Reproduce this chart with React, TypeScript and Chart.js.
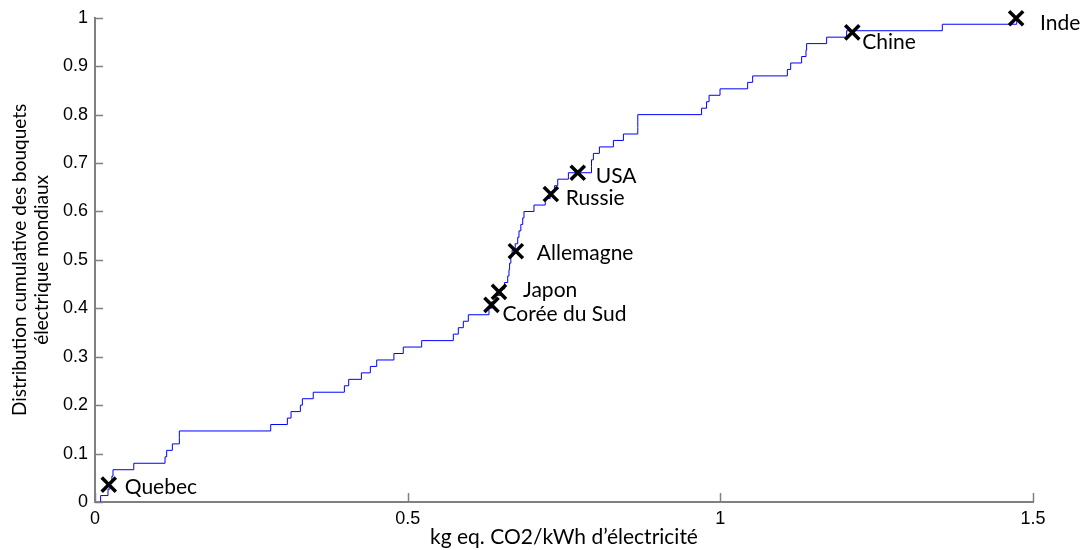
import React, { useEffect, useRef } from "react";
import { Chart, registerables } from "chart.js";

Chart.register(...registerables);

// Cumulative distribution of world electricity mixes (step positions and levels)
const stepX = [
  0.009, 0.009, 0.0208, 0.024, 0.027, 0.0288, 0.062, 0.112, 0.1146, 0.1237, 0.1349, 0.1349,
  0.281, 0.3076, 0.3135, 0.3284, 0.3316, 0.349, 0.3988, 0.4057, 0.426, 0.4403, 0.4505, 0.478,
  0.493, 0.5224, 0.573, 0.581, 0.589, 0.597, 0.63, 0.634, 0.641, 0.648, 0.655, 0.66, 0.662,
  0.663, 0.665, 0.667, 0.672, 0.676, 0.678, 0.681, 0.684, 0.686, 0.702, 0.72, 0.728, 0.735,
  0.74, 0.757, 0.794, 0.794, 0.797, 0.8066, 0.829, 0.845, 0.868, 0.868, 0.868, 0.97, 0.978,
  0.982, 0.9995, 1.0437, 1.0517, 1.1072, 1.1125, 1.13, 1.137, 1.138, 1.17, 1.202, 1.355, 1.474,
];
const stepY = [
  0, 0.0133, 0.0267, 0.04, 0.0533, 0.0667, 0.08, 0.0933, 0.1067, 0.12, 0.1333, 0.1467,
  0.16, 0.1733, 0.1867, 0.2, 0.2133, 0.2267, 0.24, 0.2533, 0.2667, 0.28, 0.2933, 0.3067,
  0.32, 0.3333, 0.3467, 0.36, 0.3733, 0.3867, 0.4, 0.4133, 0.4267, 0.44, 0.4533, 0.4667, 0.48,
  0.4933, 0.5067, 0.52, 0.5333, 0.5467, 0.56, 0.5733, 0.5867, 0.6, 0.6133, 0.6267, 0.64, 0.6533,
  0.6667, 0.68, 0.6933, 0.7067, 0.72, 0.7333, 0.7467, 0.76, 0.7733, 0.7867, 0.8, 0.8133, 0.8267,
  0.84, 0.8533, 0.8667, 0.88, 0.8933, 0.9067, 0.92, 0.9333, 0.9467, 0.96, 0.9733, 0.9867, 1.0,
];

// Highlighted countries
const countries = ["Quebec", "Corée du Sud", "Japon", "Allemagne", "Russie", "USA", "Chine", "Inde"];
const countryX = [0.022, 0.634, 0.646, 0.673, 0.729, 0.772, 1.211, 1.473];
const countryY = [0.036, 0.407, 0.434, 0.518, 0.636, 0.68, 0.97, 0.999];

const xTickLabels = ["0", "0.5", "1", "1.5"];
const yTickLabels = ["0", "0.1", "0.2", "0.3", "0.4", "0.5", "0.6", "0.7", "0.8", "0.9", "1"];

const xTitle = "kg eq. CO2/kWh d’électricité";
const yTitle = ["Distribution cumulative des bouquets", "électrique mondiaux"];

// label offsets (pixels) relative to marker
const labelOffsets: [number, number][] = [
  [16, 3], [11, 9], [24, -2], [21, 2], [15, 4], [18, 3], [10, 10], [24, 5],
];

const AXIS_COLOR = "#808080";
const TICK_FONT = "'Liberation Sans', Arial, sans-serif";

const inwardTicks = {
  id: "inwardTicks",
  afterDraw(chart: any) {
    const { ctx, chartArea, scales } = chart;
    ctx.save();
    ctx.strokeStyle = AXIS_COLOR;
    ctx.lineWidth = 1.5;
    const xs = scales.x;
    xs.ticks.forEach((_t: any, i: number) => {
      const px = Math.round(xs.getPixelForTick(i)) + 0.5;
      ctx.beginPath();
      ctx.moveTo(px, chartArea.bottom);
      ctx.lineTo(px, chartArea.bottom - 9);
      ctx.stroke();
    });
    const ys = scales.y;
    ys.ticks.forEach((_t: any, i: number) => {
      const py = Math.round(ys.getPixelForTick(i)) + 0.5;
      ctx.beginPath();
      ctx.moveTo(chartArea.left, py);
      ctx.lineTo(chartArea.left + 8, py);
      ctx.stroke();
    });
    ctx.restore();
  },
};

const countryLabels = {
  id: "countryLabels",
  afterDatasetsDraw(chart: any) {
    const { ctx } = chart;
    const meta = chart.getDatasetMeta(1);
    ctx.save();
    ctx.font = "21px Lato";
    ctx.fillStyle = "#000";
    ctx.textAlign = "left";
    ctx.textBaseline = "middle";
    meta.data.forEach((el: any, i: number) => {
      const [dx, dy] = labelOffsets[i];
      ctx.fillText(countries[i], el.x + dx, el.y + dy);
    });
    ctx.restore();
  },
};

export default function App() {
  const ref = useRef<HTMLCanvasElement | null>(null);
  useEffect(() => {
    document.body.style.margin = "0";
    if (!ref.current) return;
    const lineData = stepX.map((x, i) => ({ x, y: stepY[i] }));
    const markerData = countryX.map((x, i) => ({ x, y: countryY[i] }));
    const chart = new Chart(ref.current, {
      type: "scatter",
      data: {
        datasets: [
          {
            data: lineData,
            showLine: true,
            stepped: true,
            borderColor: "#0000ff",
            borderWidth: 1,
            pointRadius: 0,
            fill: false,
            order: 2,
          },
          {
            data: markerData,
            showLine: false,
            pointStyle: "crossRot",
            pointRadius: 10,
            borderWidth: 3.5,
            borderColor: "#000",
            backgroundColor: "#000",
            clip: false,
            order: 1,
          },
        ],
      },
      options: {
        animation: false,
        responsive: false,
        layout: { padding: { top: 17, right: 53, bottom: 0, left: 0 } },
        plugins: { legend: { display: false }, tooltip: { enabled: false } },
        scales: {
          x: {
            type: "linear",
            min: 0,
            max: 1.5,
            afterFit: (s: any) => { s.height = 48; },
            grid: { display: false, drawTicks: false },
            border: { display: true, color: AXIS_COLOR, width: 2 },
            ticks: {
              stepSize: 0.5,
              padding: 6,
              color: "#000",
              font: { family: TICK_FONT, size: 18 },
              callback: (_v: any, i: number) => xTickLabels[i],
              maxRotation: 0,
            },
            title: {
              display: true,
              text: xTitle,
              color: "#000",
              font: { family: "Lato", size: 21, lineHeight: 1.2 },
              padding: { top: 0, bottom: 0 },
            },
          },
          y: {
            type: "linear",
            min: 0,
            max: 1,
            afterFit: (s: any) => { s.width = 95; },
            grid: { display: false, drawTicks: false },
            border: { display: true, color: AXIS_COLOR, width: 2 },
            ticks: {
              stepSize: 0.1,
              padding: 7,
              color: "#000",
              font: { family: TICK_FONT, size: 18 },
              callback: (_v: any, i: number) => yTickLabels[i],
            },
            title: {
              display: true,
              text: yTitle,
              color: "#000",
              font: { family: "Lato", size: 19, lineHeight: "22px" },
              padding: { top: 9, bottom: 0 },
            },
          },
        },
      },
      plugins: [inwardTicks, countryLabels],
    });
    return () => chart.destroy();
  }, []);
  return (
    <div style={{ width: 1086, height: 550 }}>
      <canvas ref={ref} width={1086} height={550} style={{ display: "block" }} />
    </div>
  );
}
